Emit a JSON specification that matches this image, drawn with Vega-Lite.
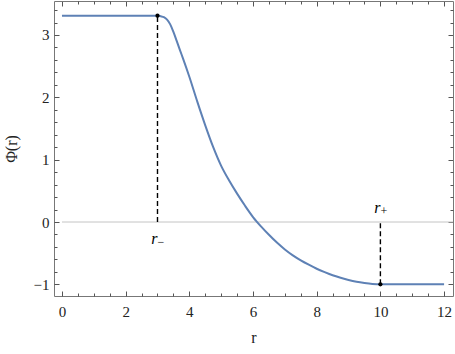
{
  "$schema": "https://vega.github.io/schema/vega-lite/v6.json",
  "width": 399,
  "height": 295,
  "autosize": {"type": "none"},
  "padding": {"left": 54, "top": 1, "right": 2, "bottom": 58},
  "background": "white",
  "config": {
    "view": {"stroke": null},
    "font": "serif",
    "axis": {"grid": false, "domainColor": "#777777", "tickColor": "#555555", "labelColor": "#222222", "labelFont": "serif", "titleFont": "serif", "labelFontSize": 15, "titleFontSize": 16, "titleFontWeight": "normal", "titleColor": "#222222", "domainWidth": 1, "tickWidth": 1}
  },
  "datasets": {
    "curve": [
      {"r": 0, "phi": 3.31}, {"r": 1, "phi": 3.31}, {"r": 2, "phi": 3.31}, {"r": 3.0, "phi": 3.31},
      {"r": 3.1, "phi": 3.3}, {"r": 3.2, "phi": 3.285}, {"r": 3.3, "phi": 3.245}, {"r": 3.4, "phi": 3.17},
      {"r": 3.5, "phi": 3.05}, {"r": 3.6, "phi": 2.91}, {"r": 3.7, "phi": 2.765}, {"r": 3.8, "phi": 2.625},
      {"r": 4.0, "phi": 2.33}, {"r": 4.25, "phi": 1.93}, {"r": 4.5, "phi": 1.55}, {"r": 4.75, "phi": 1.2},
      {"r": 5.0, "phi": 0.9}, {"r": 5.25, "phi": 0.665}, {"r": 5.5, "phi": 0.455}, {"r": 5.75, "phi": 0.26},
      {"r": 6.0, "phi": 0.08}, {"r": 6.25, "phi": -0.07}, {"r": 6.5, "phi": -0.205}, {"r": 6.75, "phi": -0.33},
      {"r": 7.0, "phi": -0.44}, {"r": 7.25, "phi": -0.535}, {"r": 7.5, "phi": -0.615}, {"r": 7.75, "phi": -0.685},
      {"r": 8.0, "phi": -0.75}, {"r": 8.25, "phi": -0.805}, {"r": 8.5, "phi": -0.855}, {"r": 8.75, "phi": -0.895},
      {"r": 9.0, "phi": -0.93}, {"r": 9.25, "phi": -0.958}, {"r": 9.5, "phi": -0.978}, {"r": 9.75, "phi": -0.993},
      {"r": 10.0, "phi": -1.0}, {"r": 11.0, "phi": -1.0}, {"r": 12.0, "phi": -1.0}
    ],
    "dashes": [
      {"r": 3, "y1": 0, "y2": 3.31},
      {"r": 10, "y1": -1.0, "y2": 0}
    ],
    "dots": [
      {"r": 3, "phi": 3.31},
      {"r": 10, "phi": -1.0}
    ],
    "labels": [
      {"r": 3, "y": -0.35, "main": "r", "sub": "−"},
      {"r": 10, "y": 0.144, "main": "r", "sub": "+"}
    ],
    "zero": [{"y": 0}]
  },
  "layer": [
    {
      "data": {"name": "zero"},
      "mark": {"type": "rule", "color": "#c4c4c4", "strokeWidth": 1},
      "encoding": {
        "x": {"datum": 0, "type": "quantitative", "scale": {"domain": [-0.25, 12.28], "nice": false, "zero": false},
              "axis": {"orient": "bottom", "title": "r", "values": [0, 2, 4, 6, 8, 10, 12], "ticks": false, "labelPadding": 8, "titlePadding": 10}},
        "x2": {"datum": 12.28},
        "y": {"field": "y", "type": "quantitative", "scale": {"domain": [-1.187, 3.545], "nice": false, "zero": false},
              "axis": {"orient": "left", "title": "Φ(r)", "values": [-1, 0, 1, 2, 3], "ticks": false, "labelPadding": 5, "titlePadding": 14}}
      }
    },
    {
      "data": {"name": "curve"},
      "mark": {"type": "line", "color": "#5E81B5", "strokeWidth": 2, "interpolate": "monotone"},
      "encoding": {
        "x": {"field": "r", "type": "quantitative",
              "axis": {"orient": "top", "offset": -295, "title": null, "labels": false, "domain": false, "values": [0, 2, 4, 6, 8, 10, 12], "tickSize": 5}},
        "y": {"field": "phi", "type": "quantitative",
              "axis": {"orient": "right", "offset": -399, "title": null, "labels": false, "domain": false, "values": [-1, 0, 1, 2, 3], "tickSize": 5}}
      }
    },
    {
      "data": {"name": "dashes"},
      "mark": {"type": "rule", "color": "black", "strokeWidth": 1.4, "strokeDash": [5, 3]},
      "encoding": {
        "x": {"field": "r", "type": "quantitative",
              "axis": {"orient": "top", "offset": -295, "title": null, "labels": false, "domain": false, "tickSize": 3, "values": [0.5, 1, 1.5, 2.5, 3, 3.5, 4.5, 5, 5.5, 6.5, 7, 7.5, 8.5, 9, 9.5, 10.5, 11, 11.5]}},
        "y": {"field": "y1", "type": "quantitative",
              "axis": {"orient": "right", "offset": -399, "title": null, "labels": false, "domain": false, "tickSize": 3, "values": [-1.2, -0.8, -0.6, -0.4, -0.2, 0.2, 0.4, 0.6, 0.8, 1.2, 1.4, 1.6, 1.8, 2.2, 2.4, 2.6, 2.8, 3.2, 3.4]}},
        "y2": {"field": "y2"}
      }
    },
    {
      "data": {"name": "dots"},
      "mark": {"type": "point", "filled": true, "color": "black", "size": 18, "opacity": 1},
      "encoding": {
        "x": {"field": "r", "type": "quantitative",
              "axis": {"orient": "bottom", "offset": -295, "title": null, "labels": false, "domain": true, "tickSize": 5, "values": [0, 2, 4, 6, 8, 10, 12]}},
        "y": {"field": "phi", "type": "quantitative",
              "axis": {"orient": "left", "offset": -399, "title": null, "labels": false, "domain": true, "tickSize": 5, "values": [-1, 0, 1, 2, 3]}}
      }
    },
    {
      "data": {"name": "labels"},
      "mark": {"type": "text", "font": "serif", "fontStyle": "italic", "fontSize": 16, "align": "right", "baseline": "alphabetic", "color": "black", "dx": 0},
      "encoding": {
        "x": {"field": "r", "type": "quantitative",
              "axis": {"orient": "bottom", "offset": -295, "title": null, "labels": false, "domain": false, "tickSize": 3, "values": [0.5, 1, 1.5, 2.5, 3, 3.5, 4.5, 5, 5.5, 6.5, 7, 7.5, 8.5, 9, 9.5, 10.5, 11, 11.5]}},
        "y": {"field": "y", "type": "quantitative",
              "axis": {"orient": "left", "offset": -399, "title": null, "labels": false, "domain": false, "tickSize": 3, "values": [-1.2, -0.8, -0.6, -0.4, -0.2, 0.2, 0.4, 0.6, 0.8, 1.2, 1.4, 1.6, 1.8, 2.2, 2.4, 2.6, 2.8, 3.2, 3.4]}},
        "text": {"field": "main"}
      }
    },
    {
      "data": {"name": "labels"},
      "mark": {"type": "text", "font": "serif", "fontSize": 12, "align": "left", "baseline": "alphabetic", "color": "black", "dx": 0, "dy": 2},
      "encoding": {
        "x": {"field": "r", "type": "quantitative", "axis": null},
        "y": {"field": "y", "type": "quantitative", "axis": null},
        "text": {"field": "sub"}
      }
    }
  ]
}
